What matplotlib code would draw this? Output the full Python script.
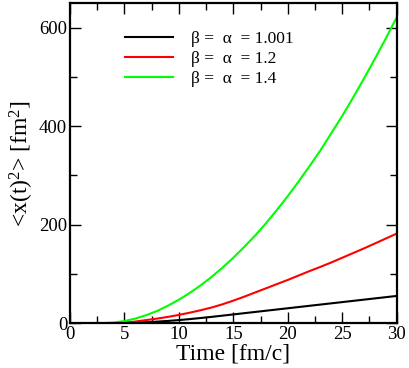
"""Mean square displacement <x(t)^2> for three beta = alpha values."""

import matplotlib
matplotlib.use("Agg")
import matplotlib.pyplot as plt
from matplotlib.ticker import MultipleLocator

# time grid [fm/c]
time = list(range(0, 31))

# <x(t)^2> [fm^2]
msd_1001 = [0, 0, 0, 0, 0, 0.5, 1.2, 2.2, 3.4, 4.8, 6.5, 8.5, 10.7, 13, 15.5, 18,
            20.5, 23, 25.5, 28, 30.5, 33, 35.5, 38, 40.5, 43, 45.5, 48, 50.5, 53, 55.5]
msd_12 = [0, 0, 0, 0, 0, 1.5, 3.5, 6.5, 9.5, 13, 17, 21.5, 26.5, 32, 38.5, 46,
          54, 62.5, 71, 79.5, 88, 97, 106, 114.5, 123.5, 133, 142.5, 152, 162, 172, 182]
msd_14 = [0, 0, 0, 0.3, 1.5, 4.5, 9.5, 16.5, 25, 35.7, 47.8, 61.6, 77, 94, 112.8, 133,
          155, 178, 203, 230, 258, 288, 319, 351, 386, 421, 458, 497, 537, 578, 621]

labels = ["β =  α  = 1.001", "β =  α  = 1.2", "β =  α  = 1.4"]
colors = ["black", "#ff0000", "#00ff00"]

plt.rcParams["font.family"] = ["Liberation Serif", "DejaVu Serif"]
plt.rcParams["mathtext.fontset"] = "custom"
plt.rcParams["mathtext.rm"] = "Liberation Serif"
plt.rcParams["mathtext.default"] = "rm"

fig = plt.figure(figsize=(4.09, 3.68), dpi=100)
ax = fig.add_axes([0.171, 0.1215, 0.799, 0.8705])

for series, label, color in zip([msd_1001, msd_12, msd_14], labels, colors):
    ax.plot(time, series, color=color, lw=1.5, label=label)

ax.set_xlim(0, 30)
ax.set_ylim(0, 650)
ax.xaxis.set_major_locator(MultipleLocator(5))
ax.xaxis.set_minor_locator(MultipleLocator(2.5))
ax.yaxis.set_major_locator(MultipleLocator(200))
ax.yaxis.set_minor_locator(MultipleLocator(100))
ax.tick_params(which="both", direction="in", top=True, right=True,
               labelsize=13.5, width=1.0, pad=2)
ax.tick_params(which="major", length=8)
ax.tick_params(which="minor", length=5)
for spine in ax.spines.values():
    spine.set_linewidth(1.6)

ax.set_xlabel("Time [fm/c]", fontsize=17, labelpad=0)
ax.set_ylabel(r"<x(t)$^{2}$> [fm$^{2}$]", fontsize=17, labelpad=2)

ax.legend(loc="upper left", bbox_to_anchor=(0.12, 0.962), frameon=False,
          fontsize=12.5, handlelength=2.8, handletextpad=1.0, labelspacing=0.22)

fig.savefig("out.png", dpi=100)
